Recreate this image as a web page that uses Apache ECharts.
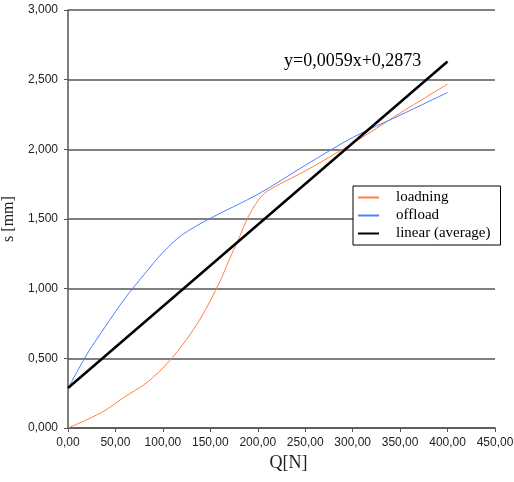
<!DOCTYPE html>
<html>
<head>
<meta charset="utf-8">
<script src="https://cdn.jsdelivr.net/npm/echarts@6/dist/echarts.min.js"></script>
<style>html,body{margin:0;padding:0;background:#fff;}#c{width:514px;height:482px;}</style>
</head>
<body>
<div id="c"></div>
<script>
var loadQ = [0, 20, 40, 60, 80, 100, 120, 140, 160, 170, 180, 190, 200, 210, 250, 300, 350, 400];
var loadS = [0, 0.06, 0.13, 0.225, 0.31, 0.43, 0.59, 0.79, 1.05, 1.21, 1.36, 1.516, 1.63, 1.70, 1.845, 2.043, 2.26, 2.468];
var offQ = [0, 20, 40, 60, 80, 100, 120, 150, 200, 250, 300, 350, 400];
var offS = [0.282, 0.53, 0.735, 0.93, 1.10, 1.26, 1.385, 1.505, 1.677, 1.885, 2.085, 2.245, 2.408];
var linQ = [0, 400];
var linS = [0.287, 2.63];
var seriesNames = ['loadning', 'offload', 'linear (average)'];
var equationText = 'y=0,0059x+0,2873';
var xTitle = 'Q[N]';
var yTitle = 's [mm]';

function pairs(a, b) { return a.map(function (v, i) { return [v, b[i]]; }); }

var chart = echarts.init(document.getElementById('c'), null, {renderer: 'canvas'});
chart.setOption({
  animation: false,
  backgroundColor: '#ffffff',
  grid: {left: 68, right: 19, top: 10, bottom: 54, containLabel: false, outerBoundsMode: 'none'},
  xAxis: {
    type: 'value', min: 0, max: 450, interval: 50,
    name: xTitle, nameLocation: 'middle', nameGap: 22,
    nameTextStyle: {fontFamily: 'Liberation Serif', fontSize: 18, color: '#222', padding: [0, 0, 0, 14]},
    axisLine: {show: true, lineStyle: {color: '#555', width: 1.5}},
    axisTick: {show: true, length: 4, inside: false, lineStyle: {color: '#555'}},
    axisLabel: {fontFamily: 'Liberation Sans', fontSize: 12, color: '#222', margin: 9,
      formatter: function (v) { return v.toFixed(2).replace('.', ','); }},
    splitLine: {show: false}
  },
  yAxis: {
    type: 'value', min: 0, max: 3, interval: 0.5,
    name: yTitle, nameLocation: 'middle', nameGap: 44, nameRotate: 90,
    nameTextStyle: {fontFamily: 'Liberation Serif', fontSize: 16, color: '#222'},
    axisLine: {show: true, lineStyle: {color: '#555', width: 1.5}},
    axisTick: {show: true, length: 4, lineStyle: {color: '#555'}},
    axisLabel: {fontFamily: 'Liberation Sans', fontSize: 12, color: '#222', margin: 10,
      formatter: function (v) { return v.toFixed(3).replace('.', ','); }},
    splitLine: {show: true, lineStyle: {color: '#555', width: 1.5}}
  },
  legend: {
    orient: 'vertical', left: 353, top: 186,
    backgroundColor: '#ffffff', borderColor: '#000', borderWidth: 1,
    padding: [4, 10, 4, 4], itemGap: 3, itemWidth: 21, itemHeight: 15,
    itemStyle: {color: 'transparent', borderColor: 'transparent', borderWidth: 0},
    textStyle: {fontFamily: 'Liberation Serif', fontSize: 15, color: '#000', padding: [0, 0, 0, 12]},
    data: seriesNames
  },
  graphic: [{
    type: 'text', left: 284, top: 52,
    style: {text: equationText, font: '18px "Liberation Serif"', fill: '#000'}
  }],
  series: [
    {name: seriesNames[0], type: 'line', data: pairs(loadQ, loadS), smooth: 0.3, symbol: 'none',
      lineStyle: {color: '#ff7f3f', width: 1}, itemStyle: {color: '#ff7f3f'}},
    {name: seriesNames[1], type: 'line', data: pairs(offQ, offS), smooth: 0.3, symbol: 'none',
      lineStyle: {color: '#4f7fff', width: 1}, itemStyle: {color: '#4f7fff'}},
    {name: seriesNames[2], type: 'line', data: pairs(linQ, linS), symbol: 'none',
      lineStyle: {color: '#000', width: 2.5}, itemStyle: {color: '#000'}}
  ]
});
</script>
</body>
</html>
